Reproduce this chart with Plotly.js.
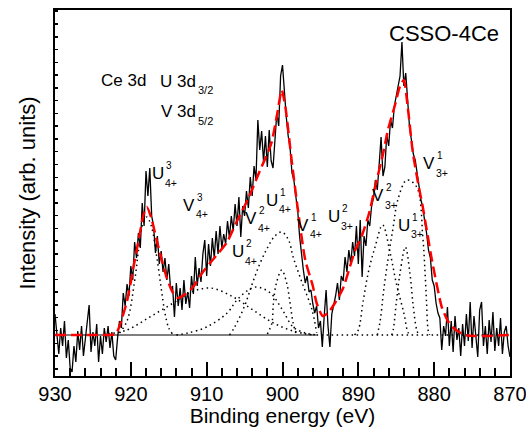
<!DOCTYPE html>
<html>
<head>
<meta charset="utf-8">
<script src="https://cdn.plot.ly/plotly-3.0.1.min.js"></script>
<style>html,body{margin:0;padding:0;background:#fff;}#chart{width:526px;height:427px;}</style>
</head>
<body>
<div id="chart"></div>
<script>
// Measured spectrum: binding energy from 930 eV down to 870 eV, step 0.25 eV
const dataStartE = 930;
const dataStepE = -0.25;
const intensity = [
62,40,22,48,30,55,18,36,8,4,30,14,45,26,50,20,38,58,71,24,44,30,52,14,40,22,48,34,50,28,44,20,16,
38,55,48,83,70,92,80,110,96,134,118,143,128,173,150,205,180,208,160,150,123,140,112,125,104,118,96,112,
86,90,59,93,70,88,66,96,72,84,68,100,82,119,90,108,94,122,136,100,132,110,138,118,145,122,150,128,142,
132,155,138,160,145,172,150,179,139,170,160,185,168,199,180,210,196,256,226,245,214,240,209,246,215,208,
240,263,250,300,311,280,259,240,228,203,196,180,166,140,119,106,93,100,84,86,72,63,70,48,55,29,60,86,50,
29,62,70,80,93,76,100,95,119,104,126,112,134,120,150,112,156,99,140,130,156,150,170,178,196,186,212,239,
200,209,241,230,256,248,270,280,289,300,334,290,303,279,249,236,222,216,200,190,176,169,155,143,126,118,
96,90,73,63,58,26,50,40,69,30,55,24,60,36,48,20,52,30,62,35,74,28,60,40,19,66,74,30,50,22,56,34,64,25,
48,30,58,22,44,50,30,19
];

// Fitted envelope (red dashed)
const fitE = [930,924,922,921.5,920.5,919.5,919,918.3,917.9,917.3,916.6,915.3,914.5,913.8,912.8,911.8,910.5,909,907.3,906,904.6,903,901.5,900.7,900.1,899.6,898.8,898,897,896,895.5,894.7,894,893,892,891,890.4,889.5,888.5,887.8,886.8,886.1,885.2,884.5,884.0,883.5,882.8,882,881.5,880.3,879,878.2,877.6,876,870];
const fitV = [41,41,42,50,75,115,135,162,169,158,136,99,84,78,82,89,104,118,134,155,176,205,232,262,286,268,216,168,116,90,73,60,63,74,88,112,126,141,165,189,220,246,270,290,296,270,223,188,169,116,69,55,49,41,41];

// Component peaks (dotted)
const u3_4E = [921.5,920.5,919.5,919,918.5,917.9,917.3,916.6,916,915.5,915,914.5];
const u3_4V = [43,55,95,125,150,159,150,120,88,63,48,42];
const v3_4E = [923,920.5,917.5,914.4,912,909.5,906.5,903.9,901.2,898.6,896];
const v3_4V = [42,46,59,73,84,88,79,66,53,45,41];
const c903E = [914,912.5,910,907.3,906,904.5,903.4,901.6,900,898.6,897,895.5];
const c903V = [41,43,49,63,76,86,89,83,66,49,43,41];
const u1_4E = [907,906.3,905,904,903,902,901,900.1,899.2,898.6,897.4,896.1,895.5];
const u1_4V = [41,49,70,92,112,128,140,144,136,119,93,66,43];
const c900E = [902,901.4,901.2,900.8,900.1,899.45,899,898.6,898.2];
const c900V = [42,53,73,93,106,93,73,53,42];
const v2_3E = [890.5,890,889.4,888.7,887.8,886.8,885.8,885,884,883.4,883];
const v2_3V = [41,46,73,103,129,151,123,93,63,43,41];
const v1_3E = [887.5,887.1,886.7,886.1,885.4,884.8,883.6,882.3,881.5,881.2,881,880.8,880.6];
const v1_3V = [41,56,83,116,149,176,196,189,139,103,73,46,41];
const u1_3E = [885.6,885.4,885,884.5,883.8,883.2,882.8,882.3,882];
const u1_3V = [41,46,73,103,129,103,73,46,41];

// Background line
const bgSolidE = [930,895.5];
const bgSolidV = [41,41];
const bgDotE = [895.5,870];
const bgDotV = [41,41];

// Peak labels: [E, intensity, main, sup, sub]
const peakLabels = [
  [915.56,202.5,'U','3','4+'],
  [911.47,171,'V','3','4+'],
  [900.45,176,'U','1','4+'],
  [903.25,157.5,'V','2','4+'],
  [904.88,124.5,'U','2','4+'],
  [896.31,151,'V','1','4+'],
  [892.35,159.5,'U','2','3+'],
  [886.42,180.5,'V','2','3+'],
  [883.12,151,'U','1','3+'],
  [879.82,212.5,'V','1','3+']
];

const FONT = 'Arial, "Liberation Sans", sans-serif';
const dotLine = {color:'#000', width:1.5, dash:'1.5px,3.5px', shape:'spline'};

function comp(x, y){
  return {x:x, y:y, type:'scatter', mode:'lines', line:dotLine, hoverinfo:'skip', showlegend:false};
}

const traces = [
  comp(u3_4E,u3_4V), comp(v3_4E,v3_4V), comp(c903E,c903V), comp(u1_4E,u1_4V),
  comp(c900E,c900V), comp(v2_3E,v2_3V), comp(v1_3E,v1_3V), comp(u1_3E,u1_3V),
  {x:bgDotE, y:bgDotV, type:'scatter', mode:'lines', line:{color:'#000', width:1.5, dash:'1.5px,3.5px'}, showlegend:false},
  {x:bgSolidE, y:bgSolidV, type:'scatter', mode:'lines', line:{color:'#000', width:1}, showlegend:false},
  {x0:dataStartE, dx:dataStepE, y:intensity, type:'scatter', mode:'lines', line:{color:'#000', width:1.3}, showlegend:false},
  {x:fitE, y:fitV, type:'scatter', mode:'lines', line:{color:'#ff0000', width:2.5, dash:'11px,5px', shape:'spline', smoothing:0.6}, showlegend:false}
];

const annotations = [];
peakLabels.forEach(function(p){
  annotations.push({x:p[0], y:p[1], xref:'x', yref:'y', text:p[2], showarrow:false, xanchor:'right', yanchor:'middle', font:{family:FONT, size:17, color:'#000'}, borderpad:0});
  annotations.push({x:p[0], y:p[1], xref:'x', yref:'y', text:p[3], showarrow:false, xanchor:'left', yanchor:'middle', yshift:8, font:{family:FONT, size:10, color:'#000'}, borderpad:0});
  annotations.push({x:p[0], y:p[1], xref:'x', yref:'y', text:p[4], showarrow:false, xanchor:'left', yanchor:'middle', yshift:-9, xshift:-1, font:{family:FONT, size:10.5, color:'#000'}, borderpad:0});
});
annotations.push({x:921.03, y:296, xref:'x', yref:'y', text:'Ce 3d', showarrow:false, xanchor:'center', yanchor:'middle', font:{family:FONT, size:17, color:'#000'}, borderpad:0});
annotations.push({x:911.27, y:294.5, xref:'x', yref:'y', text:'U 3d', showarrow:false, xanchor:'right', yanchor:'middle', font:{family:FONT, size:17, color:'#000'}, borderpad:0});
annotations.push({x:911.27, y:294.5, xref:'x', yref:'y', text:'3/2', showarrow:false, xanchor:'left', yanchor:'middle', yshift:-8, font:{family:FONT, size:11, color:'#000'}, borderpad:0});
annotations.push({x:911.27, y:264.5, xref:'x', yref:'y', text:'V 3d', showarrow:false, xanchor:'right', yanchor:'middle', font:{family:FONT, size:17, color:'#000'}, borderpad:0});
annotations.push({x:911.27, y:264.5, xref:'x', yref:'y', text:'5/2', showarrow:false, xanchor:'left', yanchor:'middle', yshift:-9, font:{family:FONT, size:11, color:'#000'}, borderpad:0});
annotations.push({x:878.70, y:342.5, xref:'x', yref:'y', text:'CSSO-4Ce', showarrow:false, xanchor:'center', yanchor:'middle', font:{family:FONT, size:22, color:'#000'}, borderpad:0});

const layout = {
  width:526, height:427,
  margin:{l:55, r:16, t:10, b:51},
  paper_bgcolor:'#fff', plot_bgcolor:'#fff',
  showlegend:false,
  font:{family:FONT, color:'#000'},
  xaxis:{
    range:[930,870], tick0:870, dtick:10, ticks:'inside', ticklen:14, tickwidth:2, tickcolor:'#000',
    minor:{ticks:'inside', ticklen:8, tickwidth:2, dtick:2, tickcolor:'#000', showgrid:false},
    tickfont:{family:FONT, size:20, color:'#000'},
    ticklabeloverflow:'allow',
    showline:true, linewidth:2, linecolor:'#000', mirror:true, showgrid:false, zeroline:false,
    ticklabelstandoff:-1,
    title:{text:'Binding energy (eV)', font:{family:FONT, size:21, color:'#000'}, standoff:0},
    automargin:false
  },
  yaxis:{
    range:[0,366], tick0:7.2, dtick:12.77, ticks:'inside', ticklen:3, tickwidth:1.5, tickcolor:'#000',
    showticklabels:false,
    showline:true, linewidth:2, linecolor:'#000', mirror:true, showgrid:false, zeroline:false,
    title:{text:'Intensity (arb. units)', font:{family:FONT, size:22, color:'#000'}, standoff:11},
    automargin:false
  },
  annotations:annotations
};

Plotly.newPlot('chart', traces, layout, {staticPlot:true, displayModeBar:false});
</script>
</body>
</html>
